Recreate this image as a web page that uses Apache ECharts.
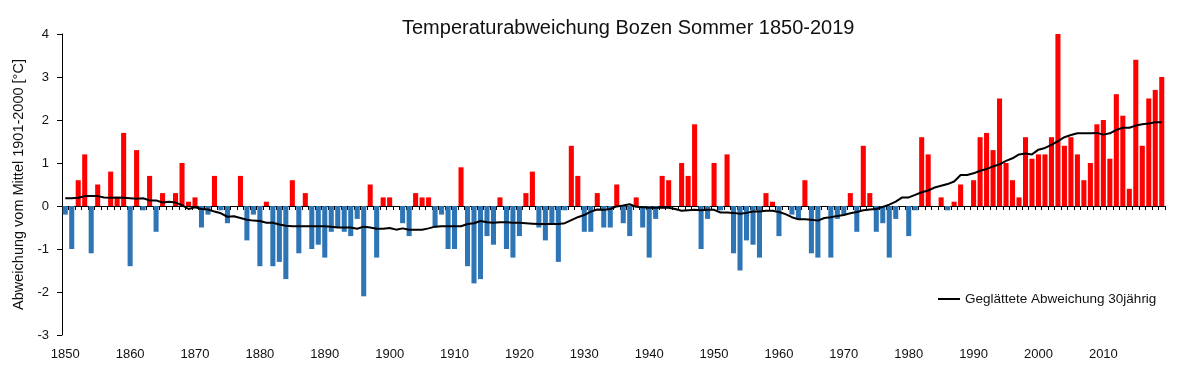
<!DOCTYPE html>
<html>
<head>
<meta charset="utf-8">
<script src="https://cdn.jsdelivr.net/npm/echarts@6/dist/echarts.min.js"></script>
<style>
html,body{margin:0;padding:0;background:#fff;}
#chart{width:1200px;height:384px;}
</style>
</head>
<body>
<div id="chart"></div>
<script>
const firstYear = 1850;
const lastYear = 2019;
const titleText = 'Temperaturabweichung Bozen Sommer 1850-2019';
const yAxisName = 'Abweichung vom Mittel 1901-2000 [°C]';
const lineName = 'Geglättete Abweichung 30jährig';

// yearly summer anomaly [°C], 1850..2019
const anomaly = [
 -0.2,-1.0, 0.6, 1.2,-1.1, 0.5, 0.0, 0.8, 0.2, 1.7,   // 1850-1859
 -1.4, 1.3,-0.1, 0.7,-0.6, 0.3, 0.0, 0.3, 1.0, 0.1,   // 1860-1869
  0.2,-0.5,-0.2, 0.7,-0.1,-0.4, 0.0, 0.7,-0.8,-0.2,   // 1870-1879
 -1.4, 0.1,-1.4,-1.3,-1.7, 0.6,-1.1, 0.3,-1.0,-0.9,   // 1880-1889
 -1.2,-0.6,-0.5,-0.6,-0.7,-0.3,-2.1, 0.5,-1.2, 0.2,   // 1890-1899
  0.2, 0.0,-0.4,-0.7, 0.3, 0.2, 0.2,-0.5,-0.2,-1.0,   // 1900-1909
 -1.0, 0.9,-1.4,-1.8,-1.7,-0.7,-0.9, 0.2,-1.0,-1.2,   // 1910-1919
 -0.7, 0.3, 0.8,-0.5,-0.8,-0.4,-1.3,-0.1, 1.4, 0.7,   // 1920-1929
 -0.6,-0.6, 0.3,-0.5,-0.5, 0.5,-0.4,-0.7, 0.2,-0.5,   // 1930-1939
 -1.2,-0.3, 0.7, 0.6, 0.0, 1.0, 0.7, 1.9,-1.0,-0.3,   // 1940-1949
  1.0,-0.1, 1.2,-1.1,-1.5,-0.8,-0.9,-1.2, 0.3, 0.1,   // 1950-1959
 -0.7, 0.0,-0.2,-0.3, 0.6,-1.1,-1.2, 0.0,-1.2,-0.3,   // 1960-1969
 -0.2, 0.3,-0.6, 1.4, 0.3,-0.6,-0.4,-1.2,-0.3, 0.0,   // 1970-1979
 -0.7,-0.1, 1.6, 1.2, 0.0, 0.2,-0.1, 0.1, 0.5, 0.0,   // 1980-1989
  0.6, 1.6, 1.7, 1.3, 2.5, 1.0, 0.6, 0.2, 1.6, 1.1,   // 1990-1999
  1.2, 1.2, 1.6, 4.0, 1.4, 1.6, 1.2, 0.6, 1.0, 1.9,   // 2000-2009
  2.0, 1.1, 2.6, 2.1, 0.4, 3.4, 1.4, 2.5, 2.7, 3.0    // 2010-2019
];

// 30-year smoothed anomaly [°C], 1850..2019
const smoothed = [
  0.18, 0.18, 0.19, 0.23, 0.23, 0.23, 0.20, 0.19, 0.20, 0.19,
  0.18, 0.17, 0.18, 0.13, 0.13, 0.08, 0.10, 0.08, 0.02,-0.07,
 -0.03,-0.07,-0.08,-0.13,-0.17,-0.25,-0.24,-0.28,-0.32,-0.34,
 -0.35,-0.39,-0.39,-0.43,-0.46,-0.47,-0.47,-0.47,-0.47,-0.47,
 -0.47,-0.48,-0.50,-0.50,-0.50,-0.53,-0.48,-0.50,-0.53,-0.53,
 -0.51,-0.55,-0.52,-0.55,-0.55,-0.55,-0.52,-0.48,-0.47,-0.47,
 -0.47,-0.47,-0.42,-0.40,-0.35,-0.38,-0.39,-0.38,-0.38,-0.39,
 -0.39,-0.40,-0.41,-0.42,-0.42,-0.42,-0.42,-0.40,-0.33,-0.26,
 -0.21,-0.13,-0.08,-0.09,-0.07,-0.01, 0.01, 0.04,-0.02,-0.03,
 -0.04,-0.04,-0.04,-0.04,-0.07,-0.11,-0.10,-0.09,-0.10,-0.09,
 -0.09,-0.15,-0.15,-0.16,-0.18,-0.16,-0.13,-0.13,-0.11,-0.11,
 -0.14,-0.19,-0.26,-0.31,-0.31,-0.32,-0.34,-0.28,-0.26,-0.23,
 -0.21,-0.17,-0.14,-0.10,-0.08,-0.07,-0.02, 0.03, 0.10, 0.20,
  0.20, 0.26, 0.32, 0.36, 0.43, 0.47, 0.51, 0.57, 0.72, 0.72,
  0.76, 0.82, 0.86, 0.92, 0.97, 1.05, 1.11, 1.20, 1.22, 1.20,
  1.31, 1.35, 1.42, 1.51, 1.60, 1.65, 1.69, 1.69, 1.69, 1.70,
  1.66, 1.69, 1.77, 1.82, 1.82, 1.87, 1.90, 1.92, 1.95, 1.95
];

const years = [];
for (let y = firstYear; y <= lastYear; y++) years.push(String(y));

const FONT = "'Liberation Sans', Arial, sans-serif";
const chart = echarts.init(document.getElementById('chart'), null, {renderer: 'canvas'});
chart.setOption({
  animation: false,
  backgroundColor: '#ffffff',
  textStyle: {fontFamily: FONT},
  title: {
    text: titleText,
    left: 402,
    top: 18,
    padding: 0,
    textStyle: {fontFamily: FONT, fontSize: 20, fontWeight: 'normal', color: '#111'}
  },
  legend: {
    left: 933,
    top: 287,
    itemWidth: 22,
    itemHeight: 2,
    itemGap: 6,
    data: [{name: lineName, icon: 'rect'}],
    textStyle: {fontFamily: FONT, fontSize: 13.5, color: '#111'}
  },
  grid: {left: 62, right: 35, top: 34, bottom: 49, containLabel: false},
  xAxis: [
    {
      type: 'category',
      data: years,
      boundaryGap: true,
      axisLine: {show: true, onZero: true, lineStyle: {color: '#000', width: 1}},
      axisTick: {show: true, interval: 0, length: 4, lineStyle: {color: '#000'}},
      axisLabel: {show: false},
      splitLine: {show: false}
    },
    {
      type: 'category',
      data: years,
      position: 'bottom',
      boundaryGap: true,
      axisLine: {show: false, onZero: false},
      axisTick: {show: false},
      axisLabel: {show: true, interval: 9, margin: 13, fontFamily: FONT, fontSize: 13, color: '#111'},
      splitLine: {show: false}
    }
  ],
  yAxis: {
    type: 'value',
    min: -3,
    max: 4,
    interval: 1,
    name: yAxisName,
    nameLocation: 'middle',
    nameGap: 32,
    nameTextStyle: {fontFamily: FONT, fontSize: 14.5, color: '#111'},
    axisLine: {show: true, lineStyle: {color: '#000', width: 1}},
    axisTick: {show: true, length: 5, lineStyle: {color: '#000'}},
    axisLabel: {margin: 13, fontFamily: FONT, fontSize: 13, color: '#111'},
    splitLine: {show: false}
  },
  series: [
    {
      name: 'Abweichung',
      type: 'bar',
      xAxisIndex: 0,
      data: anomaly,
      barCategoryGap: '22%',
      itemStyle: {
        color: function (p) { return p.value >= 0 ? '#FF0000' : '#2E75B6'; }
      }
    },
    {
      name: lineName,
      type: 'line',
      xAxisIndex: 0,
      data: smoothed,
      symbol: 'none',
      showSymbol: false,
      lineStyle: {color: '#000', width: 2},
      itemStyle: {color: '#000'},
      z: 5
    }
  ]
});
</script>
</body>
</html>
